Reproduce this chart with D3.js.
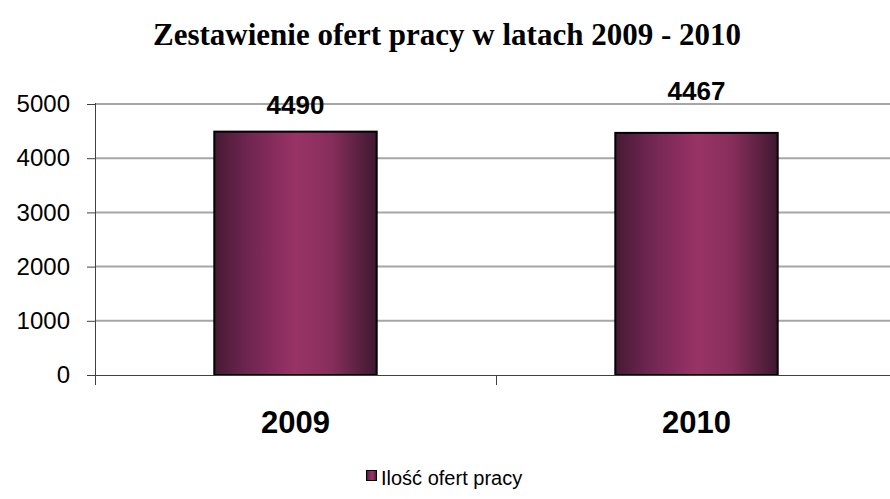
<!DOCTYPE html>
<html>
<head>
<meta charset="utf-8">
<script src="https://cdn.jsdelivr.net/npm/d3@7/dist/d3.min.js"></script>
<style>
  html, body { margin: 0; padding: 0; background: #fff; }
  svg { display: block; }
</style>
</head>
<body>
<svg id="chart" width="890" height="499"></svg>
<script>
// Job offers per year
const years = ["2009", "2010"];
const offers = [4490, 4467];
const yTicks = [0, 1000, 2000, 3000, 4000, 5000];
const titleText = "Zestawienie ofert pracy w latach 2009 - 2010";
const seriesName = "Ilość ofert pracy";

const svg = d3.select("#chart");
const W = 890, H = 499;
const plot = { left: 95, right: 897, top: 104, bottom: 375 };

// Horizontal shading used on the bars and the legend key
const defs = svg.append("defs");
const grad = defs.append("linearGradient").attr("id", "barGrad")
  .attr("x1", "0%").attr("x2", "100%").attr("y1", "0%").attr("y2", "0%");
[[0, "#451a33"], [0.2, "#6e2550"], [0.5, "#993366"], [0.72, "#882e5c"], [1, "#3f1830"]]
  .forEach(([o, c]) => grad.append("stop").attr("offset", o).attr("stop-color", c));

const x = d3.scaleBand().domain(years).range([plot.left, plot.right]).paddingInner(0).paddingOuter(0);
const y = d3.scaleLinear().domain([0, 5000]).range([plot.bottom, plot.top]);
const barW = x.bandwidth() * 0.405;

// Title
svg.append("text")
  .attr("x", 447).attr("y", 45)
  .attr("text-anchor", "middle")
  .style("font-family", "'Liberation Serif', 'Times New Roman', serif")
  .style("font-weight", "bold")
  .style("font-size", "31px")
  .text(titleText);

// Gridlines
svg.append("g").selectAll("line")
  .data(yTicks.filter(d => d > 0))
  .join("line")
  .attr("x1", plot.left).attr("x2", W)
  .attr("y1", d => y(d)).attr("y2", d => y(d))
  .attr("stroke", "#a6a6a6").attr("stroke-width", 2);

// Y axis
const yAxis = svg.append("g")
  .attr("transform", `translate(${plot.left},0)`)
  .call(d3.axisLeft(y).tickValues(yTicks).tickSize(8).tickPadding(17).tickFormat(d3.format("d")));
yAxis.select(".domain").attr("stroke", "#404040").attr("d", `M0.5,${plot.top - 1}V${plot.bottom}`);
yAxis.selectAll(".tick line").attr("stroke", "#404040");
yAxis.selectAll("text")
  .style("font-family", "'Liberation Sans', Arial, sans-serif")
  .style("font-size", "24px")
  .attr("fill", "#000");

// Bars
svg.append("g").selectAll("rect")
  .data(years.map((k, i) => ({ k, v: offers[i] })))
  .join("rect")
  .attr("x", d => x(d.k) + (x.bandwidth() - barW) / 2)
  .attr("y", d => y(d.v))
  .attr("width", barW)
  .attr("height", d => y(0) - y(d.v))
  .attr("fill", "url(#barGrad)")
  .attr("stroke", "#000").attr("stroke-width", 2);

// X axis
const xAxisG = svg.append("g").attr("transform", `translate(0,${plot.bottom})`);
xAxisG.append("line").attr("x1", plot.left - 8).attr("x2", W)
  .attr("y1", 0.5).attr("y2", 0.5).attr("stroke", "#404040");
xAxisG.selectAll("line.tk")
  .data(years.map(k => x(k)).concat([plot.right]))
  .join("line").attr("class", "tk")
  .attr("x1", d => d + 0.5).attr("x2", d => d + 0.5)
  .attr("y1", 0).attr("y2", 10).attr("stroke", "#404040");
xAxisG.selectAll("text")
  .data(years)
  .join("text")
  .attr("x", d => x(d) + x.bandwidth() / 2)
  .attr("y", 58)
  .attr("text-anchor", "middle")
  .style("font-family", "'Liberation Sans', Arial, sans-serif")
  .style("font-weight", "bold")
  .style("font-size", "31px")
  .text(d => d);

// Value labels above bars
const labelLift = [18, 33];
svg.append("g").selectAll("text")
  .data(years.map((k, i) => ({ k, v: offers[i], lift: labelLift[i] })))
  .join("text")
  .attr("x", d => x(d.k) + x.bandwidth() / 2)
  .attr("y", d => y(d.v) - d.lift)
  .attr("text-anchor", "middle")
  .style("font-family", "'Liberation Sans', Arial, sans-serif")
  .style("font-weight", "bold")
  .style("font-size", "26px")
  .text(d => d.v);

// Legend
const leg = svg.append("g").attr("transform", "translate(366,470)");
leg.append("rect").attr("x", 0.5).attr("y", 0.5).attr("width", 10).attr("height", 10)
  .attr("fill", "url(#barGrad)").attr("stroke", "#000").attr("stroke-width", 1);
leg.append("text")
  .attr("x", 15).attr("y", 15)
  .style("font-family", "'Liberation Sans', Arial, sans-serif")
  .style("font-size", "20px")
  .text(seriesName);
</script>
</body>
</html>
